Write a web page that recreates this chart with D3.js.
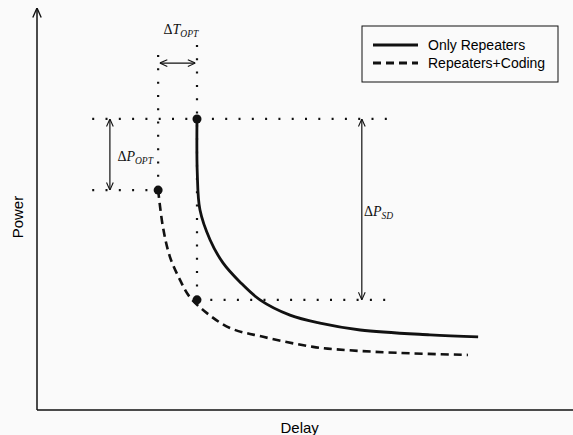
<!DOCTYPE html>
<html>
<head>
<meta charset="utf-8">
<script src="https://cdn.jsdelivr.net/npm/d3@7"></script>
<style>
  body { margin: 0; background: #fafafa; }
  svg { display: block; }
</style>
</head>
<body>
<svg id="chart" width="573" height="435"></svg>
<script>
// curves (delay, power in arbitrary 0-10 units)
var onlyRepDelay = [2.985, 2.99, 3.04, 3.23, 3.47, 3.79, 4.16, 4.72, 5.28, 6.03, 7.33, 8.23];
var onlyRepPower = [7.24, 5.90, 4.98, 4.23, 3.66, 3.18, 2.74, 2.36, 2.16, 1.99, 1.87, 1.82];
var codingDelay = [2.26, 2.35, 2.48, 2.67, 2.85, 3.17, 3.60, 4.22, 5.15, 5.78, 6.77, 8.04];
var codingPower = [5.47, 4.55, 3.81, 3.23, 2.81, 2.41, 2.04, 1.82, 1.57, 1.49, 1.42, 1.37];
var legendLabels = ["Only Repeaters", "Repeaters+Coding"];

// marked points: start of each curve and same delay on coded curve
var optDelay = [2.985, 2.26];
var optPower = [7.24, 5.47, 2.74];

var svg = d3.select("#chart"),
  margin = {top: 8, right: 0, bottom: 25, left: 37},
  width = 573 - margin.left - margin.right,
  height = 435 - margin.top - margin.bottom,
  g = svg.append("g").attr("transform", "translate(" + margin.left + "," + margin.top + ")");

var x = d3.scaleLinear().domain([0, 10]).range([0, width]);
var y = d3.scaleLinear().domain([0, 10]).range([height, 0]);

var defs = svg.append("defs");
defs.append("marker")
  .attr("id", "arr")
  .attr("viewBox", "0 0 10 10")
  .attr("refX", 10).attr("refY", 5)
  .attr("markerWidth", 7).attr("markerHeight", 7)
  .attr("orient", "auto-start-reverse")
  .append("path")
  .attr("d", "M1,1 L10,5 L1,9")
  .attr("fill", "none")
  .attr("stroke", "#111")
  .attr("stroke-width", 1.3);

// axes (plain lines, no ticks)
g.append("line")
  .attr("x1", x(0)).attr("y1", y(0))
  .attr("x2", x(0)).attr("y2", y(10))
  .attr("stroke", "#111").attr("stroke-width", 1.5)
  .attr("marker-end", "url(#arr)");
g.append("line")
  .attr("x1", x(0)).attr("y1", y(0))
  .attr("x2", x(10)).attr("y2", y(0))
  .attr("stroke", "#111").attr("stroke-width", 1.5);

svg.append("text")
  .attr("transform", "translate(23," + (margin.top + y(4.8)) + ") rotate(-90)")
  .attr("text-anchor", "middle")
  .attr("font-family", "Liberation Sans, Arial, sans-serif")
  .attr("font-size", 15)
  .text("Power");
svg.append("text")
  .attr("x", margin.left + x(4.9)).attr("y", 433)
  .attr("text-anchor", "middle")
  .attr("font-family", "Liberation Sans, Arial, sans-serif")
  .attr("font-size", 15)
  .text("Delay");

// dotted guide lines
function dotted(x1, y1, x2, y2) {
  g.append("line")
    .attr("x1", x(x1)).attr("y1", y(y1))
    .attr("x2", x(x2)).attr("y2", y(y2))
    .attr("stroke", "#111")
    .attr("stroke-width", 2.2)
    .attr("stroke-dasharray", "2,11.3");
}
dotted(1.03, optPower[0], 6.59, optPower[0]);
dotted(1.03, optPower[1], optDelay[1], optPower[1]);
dotted(optDelay[0], optPower[2], 6.55, optPower[2]);
dotted(optDelay[1], 8.83, optDelay[1], optPower[1]);
dotted(optDelay[0], 9.08, optDelay[0], optPower[2]);

// double arrows
function dblArrow(x1, y1, x2, y2) {
  g.append("line")
    .attr("x1", x(x1)).attr("y1", y(y1))
    .attr("x2", x(x2)).attr("y2", y(y2))
    .attr("stroke", "#111").attr("stroke-width", 1.2)
    .attr("marker-start", "url(#arr)")
    .attr("marker-end", "url(#arr)");
}
dblArrow(optDelay[1] + 0.03, 8.63, optDelay[0] - 0.03, 8.63);
dblArrow(1.36, optPower[0], 1.36, optPower[1]);
dblArrow(6.06, optPower[0], 6.06, optPower[2]);

function deltaLabel(px, py, main, sub) {
  var t = g.append("text")
    .attr("x", x(px)).attr("y", y(py))
    .attr("font-family", "Liberation Serif, Times New Roman, serif")
    .attr("font-size", 14)
    .attr("fill", "#111");
  t.append("tspan").text("\u0394");
  t.append("tspan").attr("font-style", "italic").text(main);
  t.append("tspan").attr("font-style", "italic").attr("font-size", 9.5)
    .attr("dy", 3).text(sub);
}
deltaLabel(2.36, 9.35, "T", "OPT");
deltaLabel(1.5, 6.2, "P", "OPT");
deltaLabel(6.1, 4.82, "P", "SD");

// curves
var line = d3.line()
  .x(function(d) { return x(d[0]); })
  .y(function(d) { return y(d[1]); })
  .curve(d3.curveCatmullRom.alpha(0.5));

var solidData = d3.zip(onlyRepDelay, onlyRepPower);
var dashData = d3.zip(codingDelay, codingPower);

g.append("path")
  .datum(solidData)
  .attr("fill", "none")
  .attr("stroke", "#111")
  .attr("stroke-width", 2.8)
  .attr("d", line);

g.append("path")
  .datum(dashData)
  .attr("fill", "none")
  .attr("stroke", "#111")
  .attr("stroke-width", 2.6)
  .attr("stroke-dasharray", "8,5")
  .attr("d", line);

// dots
var dots = [[optDelay[0], optPower[0]], [optDelay[1], optPower[1]], [optDelay[0], optPower[2]]];
g.selectAll("circle.pt")
  .data(dots)
  .enter().append("circle")
  .attr("class", "pt")
  .attr("cx", function(d) { return x(d[0]); })
  .attr("cy", function(d) { return y(d[1]); })
  .attr("r", 4.5)
  .attr("fill", "#111");

// legend
var lg = svg.append("g").attr("transform", "translate(362,26)");
lg.append("rect")
  .attr("width", 196).attr("height", 56)
  .attr("fill", "#fafafa")
  .attr("stroke", "#111").attr("stroke-width", 1);
legendLabels.forEach(function(lab, i) {
  var yy = 19 + i * 18;
  lg.append("line")
    .attr("x1", 11).attr("x2", 56)
    .attr("y1", yy).attr("y2", yy)
    .attr("stroke", "#111").attr("stroke-width", 2.8)
    .attr("stroke-dasharray", i === 0 ? null : "8,5");
  lg.append("text")
    .attr("x", 66).attr("y", yy + 5)
    .attr("font-family", "Liberation Sans, Arial, sans-serif")
    .attr("font-size", 14)
    .text(lab);
});
</script>
</body>
</html>
